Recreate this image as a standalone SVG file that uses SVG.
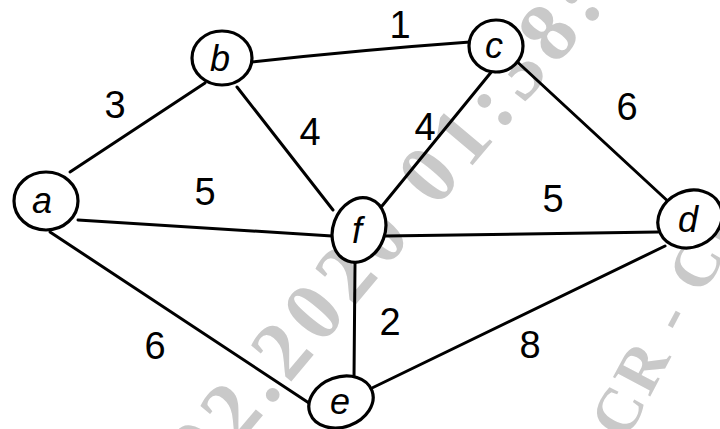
<svg xmlns="http://www.w3.org/2000/svg" width="720" height="429" viewBox="0 0 720 429">
<style>
.wm{font-family:"Liberation Serif",serif;font-weight:bold;fill:#c9c9c9}
.edge{stroke:#000;stroke-width:3;fill:none;stroke-linecap:round}
.node ellipse{stroke:#000;stroke-width:3.2;fill:#fff}
.lbl{font-family:"Liberation Sans",sans-serif;font-size:38px;fill:#000;text-anchor:middle}
.nl{font-family:"Liberation Sans",sans-serif;font-size:36px;fill:#000;text-anchor:middle;font-style:italic}
</style>
<rect width="720" height="429" fill="#fff"/>
<text class="wm" font-size="84" letter-spacing="8" transform="translate(206,483) rotate(-50)">02.2020 01:38:</text>
<text class="wm" font-size="64" letter-spacing="4" transform="translate(626,442) rotate(-62)">CR - CR</text>
<g id="connectors">
<path class="edge" d="M70,172 L205,83"/>
<path class="edge" d="M252,62 Q360,50 470,42"/>
<path class="edge" d="M237,87 L333,210"/>
<path class="edge" d="M78,220 L332,236"/>
<path class="edge" d="M497,65 L382,206"/>
<path class="edge" d="M512,57 L672,205"/>
<path class="edge" d="M385,236 L658,232"/>
<path class="edge" d="M50,232 L312,405"/>
<path class="edge" d="M355,262 L354,378"/>
<path class="edge" d="M372,388 L665,246"/>
</g>
<g id="edge-labels">
<text class="lbl" x="115" y="118">3</text>
<text class="lbl" x="400" y="38">1</text>
<text class="lbl" x="310" y="145">4</text>
<text class="lbl" x="425" y="140">4</text>
<text class="lbl" x="205" y="205">5</text>
<text class="lbl" x="627" y="120">6</text>
<text class="lbl" x="553" y="212">5</text>
<text class="lbl" x="390" y="335">2</text>
<text class="lbl" x="530" y="358">8</text>
<text class="lbl" x="155" y="359">6</text>
</g>
<g id="node-a" class="node"><ellipse cx="46" cy="201" rx="32" ry="29"/><text class="nl" x="42" y="213">a</text></g>
<g id="node-b" class="node"><ellipse cx="222" cy="58" rx="30" ry="27"/><text class="nl" x="220" y="71">b</text></g>
<g id="node-c" class="node"><ellipse cx="496" cy="46" rx="27" ry="26"/><text class="nl" x="494" y="58">c</text></g>
<g id="node-f" class="node"><ellipse cx="359" cy="230" rx="26" ry="33" transform="rotate(20 359 230)"/><text class="nl" x="357" y="243">f</text></g>
<g id="node-d" class="node"><ellipse cx="690" cy="219" rx="33" ry="28" transform="rotate(-25 690 219)"/><text class="nl" x="688" y="232">d</text></g>
<g id="node-e" class="node"><ellipse cx="341" cy="402" rx="33" ry="25" transform="rotate(-20 341 402)"/><text class="nl" x="340" y="414">e</text></g>
</svg>
